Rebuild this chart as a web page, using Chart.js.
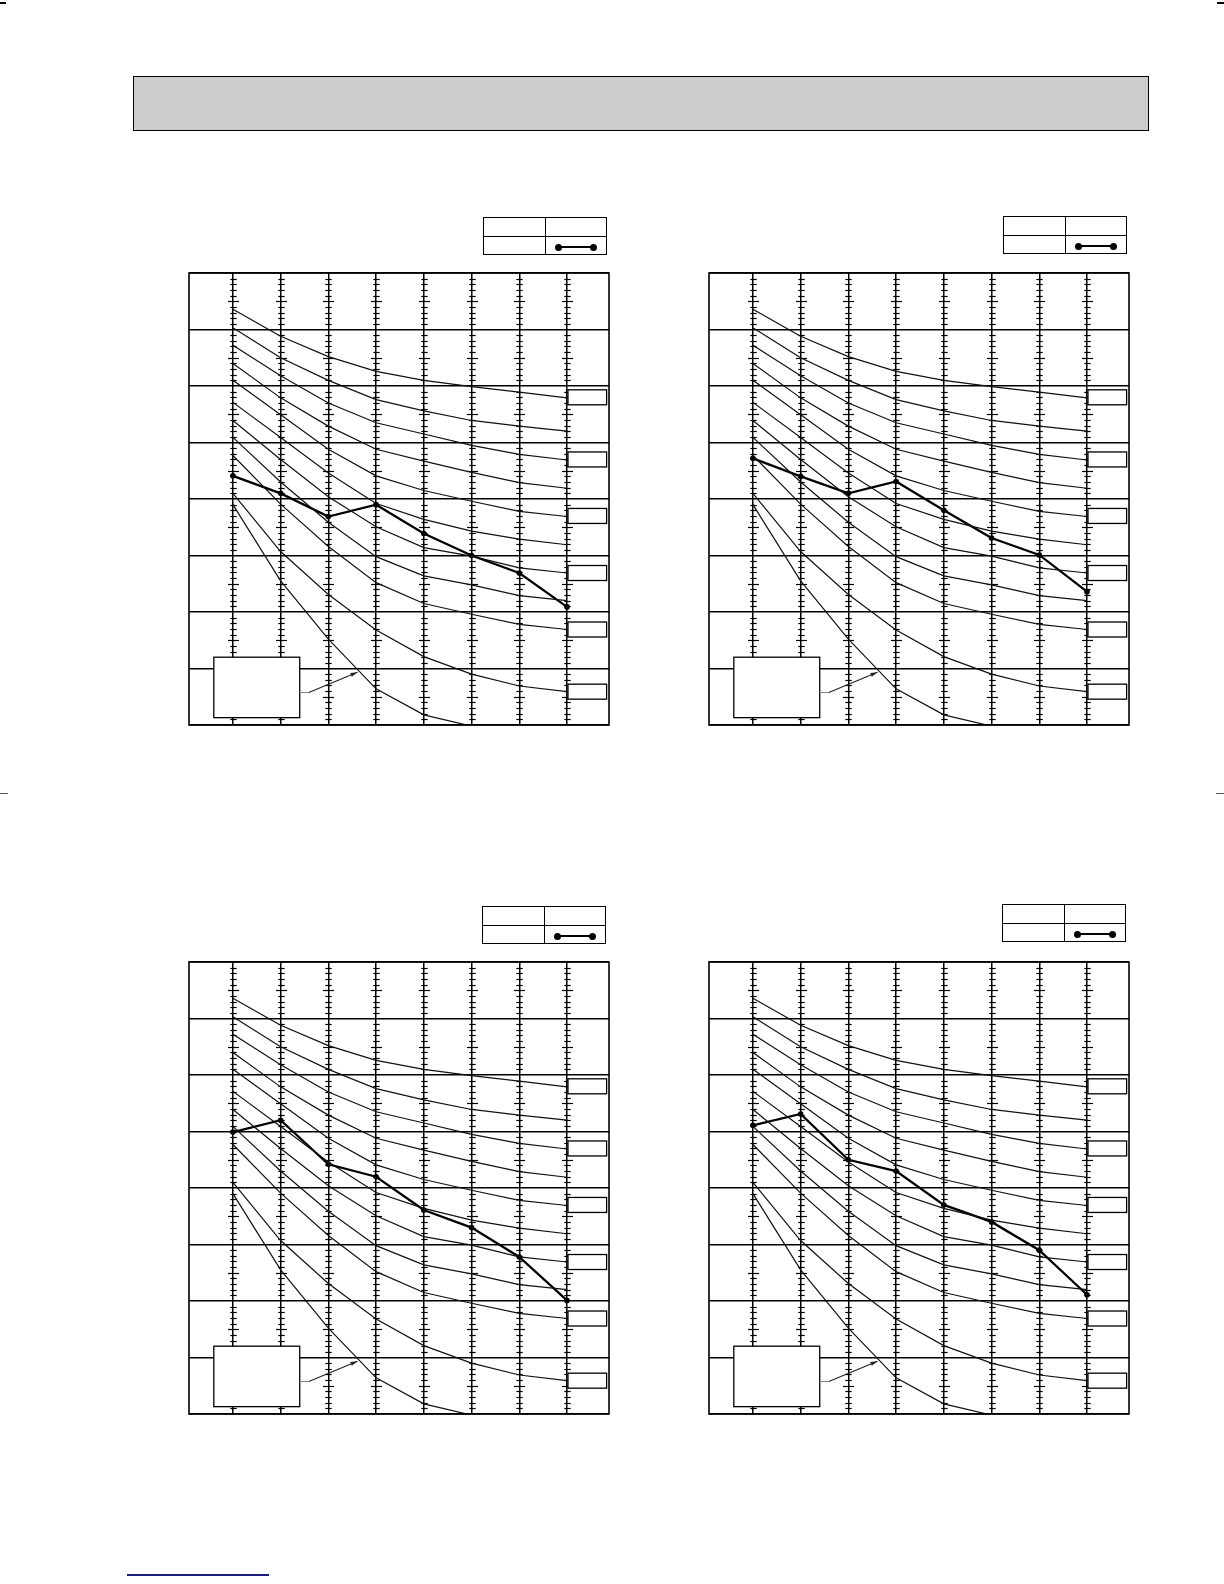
<!DOCTYPE html>
<html>
<head>
<meta charset="utf-8">
<script src="https://cdn.jsdelivr.net/npm/chart.js@4.4.0/dist/chart.umd.min.js"></script>
<style>
  body { margin: 0; background: #fff; }
  #page { position: relative; width: 1224px; height: 1584px; overflow: hidden; background: #fff; }
  .header { position: absolute; left: 133px; top: 76px; width: 1016px; height: 55px;
            background: #cccccc; border: 1.5px solid #000; box-sizing: border-box; }
  .mark { position: absolute; height: 1px; background: #555; }
  .chart { position: absolute; width: 432px; height: 464px; }
  .key { position: absolute; width: 124px; height: 38px; border: 1.4px solid #000; box-sizing: border-box; }
  .key .col { position: absolute; left: 61px; top: 0; width: 1.4px; height: 100%; background: #000; }
  .key .row { position: absolute; left: 0; top: 17.5px; width: 100%; height: 1.4px; background: #000; }
  .key .line { position: absolute; left: 74px; top: 28.3px; width: 35px; height: 1.4px; background: #000; }
  .key .dot { position: absolute; top: 25.5px; width: 7px; height: 7px; border-radius: 50%; background: #000; }
</style>
</head>
<body>
<div id="page">
  <div class="mark" style="left:0;top:2px;width:6px;height:1.5px;background:#000"></div>
  <div class="mark" style="left:1217px;top:2px;width:7px;height:1.5px;background:#000"></div>
  <div class="mark" style="left:0;top:793px;width:8px"></div>
  <div class="mark" style="left:1216px;top:793px;width:8px"></div>
  <div class="header"></div>

  <div class="key" style="left:483px;top:217px"><div class="col"></div><div class="row"></div><div class="line"></div><div class="dot" style="left:71px"></div><div class="dot" style="left:106px"></div></div>
  <div class="key" style="left:1003px;top:216px"><div class="col"></div><div class="row"></div><div class="line"></div><div class="dot" style="left:71px"></div><div class="dot" style="left:106px"></div></div>
  <div class="key" style="left:482px;top:906px"><div class="col"></div><div class="row"></div><div class="line"></div><div class="dot" style="left:71px"></div><div class="dot" style="left:106px"></div></div>
  <div class="key" style="left:1002px;top:904px"><div class="col"></div><div class="row"></div><div class="line"></div><div class="dot" style="left:71px"></div><div class="dot" style="left:106px"></div></div>

  <div class="chart" style="left:183px;top:267px"><canvas id="upperLeft"></canvas></div>
  <div class="chart" style="left:703px;top:267px"><canvas id="upperRight"></canvas></div>
  <div class="chart" style="left:183px;top:956px"><canvas id="lowerLeft"></canvas></div>
  <div class="chart" style="left:703px;top:956px"><canvas id="lowerRight"></canvas></div>

  <div class="mark" style="left:127px;top:1574px;width:142px;height:1.5px;background:#1c1c80"></div>
</div>

<script>
// x positions of the vertical lines
const steps = [1, 2, 3, 4, 5, 6, 7, 8];

// thin curves, top to bottom (same family in every panel)
const curve1 = [7.36, 6.88, 6.52, 6.26, 6.10, 5.99, 5.89, 5.79];
const curve2 = [7.03, 6.50, 6.10, 5.76, 5.56, 5.39, 5.29, 5.20];
const curve3 = [6.72, 6.18, 5.70, 5.35, 5.15, 4.95, 4.79, 4.69];
const curve4 = [6.40, 5.79, 5.29, 4.88, 4.67, 4.47, 4.29, 4.19];
const curve5 = [6.10, 5.49, 4.88, 4.41, 4.15, 3.96, 3.78, 3.69];
const curve6 = [5.71, 5.09, 4.46, 3.92, 3.64, 3.43, 3.29, 3.19];
const curve7 = [5.39, 4.70, 4.04, 3.51, 3.14, 2.99, 2.78, 2.69];
const curve8 = [5.09, 4.30, 3.59, 2.98, 2.64, 2.48, 2.29, 2.20];
const curve9 = [4.77, 3.91, 3.16, 2.52, 2.15, 1.96, 1.78, 1.69];
const curve10 = [4.10, 3.07, 2.31, 1.68, 1.21, 0.90, 0.69, 0.59];
const curve11 = [3.90, 2.55, 1.52, 0.64, 0.18, -0.02, null, null];

// bold measured line of each panel
const upperLeftValues = [4.41, 4.10, 3.69, 3.90, 3.39, 3.00, 2.69, 2.09];
const upperRightValues = [4.72, 4.40, 4.10, 4.31, 3.80, 3.31, 3.01, 2.36];
const lowerLeftValues = [4.99, 5.20, 4.42, 4.20, 3.61, 3.30, 2.78, 2.01];
const lowerRightValues = [5.11, 5.31, 4.50, 4.30, 3.70, 3.40, 2.90, 2.11];

// levels of the small label boxes at the right end of the curves
const labelLevels = [5.80, 4.70, 3.70, 2.69, 1.69, 0.59];

const curves = [curve1, curve2, curve3, curve4, curve5, curve6, curve7, curve8, curve9, curve10, curve11];

function toPoints(values) {
    return values.map((y, i) => ({x: steps[i], y})).filter(p => p.y !== null);
}

const chartDecor = {
    id: 'chartDecor',
    beforeDatasetsDraw(chart) {
        const {ctx, scales: {x, y}} = chart;
        ctx.save();
        ctx.strokeStyle = '#000';
        ctx.lineWidth = 1.2;
        for (const step of steps) {
            const px = Math.round(x.getPixelForValue(step)) + 0.5;
            for (let k = 1; k < 80; k++) {
                if (k % 10 === 0) continue;
                const py = Math.round(y.getPixelForValue(k / 10)) + 0.5;
                const half = k % 5 === 0 ? 5.5 : 3.2;
                ctx.beginPath();
                ctx.moveTo(px - half, py);
                ctx.lineTo(px + half, py);
                ctx.stroke();
            }
        }
        ctx.restore();
    },
    afterDatasetsDraw(chart) {
        const {ctx, chartArea: a, scales: {x, y}} = chart;
        ctx.save();
        ctx.strokeStyle = '#000';
        ctx.fillStyle = '#fff';
        ctx.lineWidth = 1.3;

        // label boxes
        const boxLeft = x.getPixelForValue(8.02);
        const boxRight = x.getPixelForValue(8.83);
        for (const level of labelLevels) {
            const mid = y.getPixelForValue(level);
            ctx.fillRect(boxLeft, mid - 7.5, boxRight - boxLeft, 15);
            ctx.strokeRect(boxLeft, mid - 7.5, boxRight - boxLeft, 15);
        }

        // note box, lower left
        const nl = x.getPixelForValue(0.60), nr = x.getPixelForValue(2.40);
        const nt = y.getPixelForValue(1.20), nb = y.getPixelForValue(0.13);
        ctx.fillRect(nl, nt, nr - nl, nb - nt);
        ctx.strokeRect(nl, nt, nr - nl, nb - nt);

        // pointer from the note to the lowest curve
        const ay = y.getPixelForValue(0.575);
        const bx = x.getPixelForValue(2.59);
        const tx = x.getPixelForValue(3.61), ty = y.getPixelForValue(0.935);
        ctx.lineWidth = 1.1;
        ctx.strokeStyle = '#888';
        ctx.beginPath();
        ctx.moveTo(nr, ay);
        ctx.lineTo(bx, ay);
        ctx.stroke();
        ctx.strokeStyle = '#222';
        ctx.beginPath();
        ctx.moveTo(bx, ay);
        ctx.lineTo(tx, ty);
        ctx.stroke();
        const ang = Math.atan2(ty - ay, tx - bx);
        ctx.fillStyle = '#222';
        ctx.beginPath();
        ctx.moveTo(tx, ty);
        ctx.lineTo(tx - 7 * Math.cos(ang) + 2 * Math.sin(ang), ty - 7 * Math.sin(ang) - 2 * Math.cos(ang));
        ctx.lineTo(tx - 7 * Math.cos(ang) - 2 * Math.sin(ang), ty - 7 * Math.sin(ang) + 2 * Math.cos(ang));
        ctx.closePath();
        ctx.fill();

        // frame
        ctx.strokeStyle = '#000';
        ctx.lineWidth = 1.6;
        ctx.strokeRect(a.left, a.top, a.width, a.height);
        ctx.restore();
    }
};

function buildChart(canvasId, values) {
    const datasets = curves.map(c => ({
        data: toPoints(c),
        borderColor: '#111',
        borderWidth: 1.2,
        pointRadius: 0,
        tension: 0,
    }));
    datasets.push({
        data: toPoints(values),
        borderColor: '#000',
        borderWidth: 2.3,
        pointRadius: 2.8,
        pointBackgroundColor: '#000',
        pointBorderWidth: 0,
        tension: 0,
    });

    const gridStyle = {color: '#000', lineWidth: 1.5, drawTicks: false};
    return new Chart(document.getElementById(canvasId), {
        type: 'line',
        data: {datasets},
        options: {
            animation: false,
            responsive: true,
            maintainAspectRatio: false,
            layout: {padding: 6},
            plugins: {legend: {display: false}, tooltip: {enabled: false}},
            scales: {
                x: {
                    type: 'linear', min: 0.08, max: 8.88,
                    afterBuildTicks: scale => { scale.ticks = steps.map(v => ({value: v})); },
                    ticks: {display: false},
                    grid: gridStyle,
                    border: {display: false},
                },
                y: {
                    min: 0, max: 8,
                    ticks: {display: false, stepSize: 1},
                    grid: gridStyle,
                    border: {display: false},
                },
            },
        },
        plugins: [chartDecor],
    });
}

buildChart('upperLeft', upperLeftValues);
buildChart('upperRight', upperRightValues);
buildChart('lowerLeft', lowerLeftValues);
buildChart('lowerRight', lowerRightValues);
</script>
</body>
</html>
